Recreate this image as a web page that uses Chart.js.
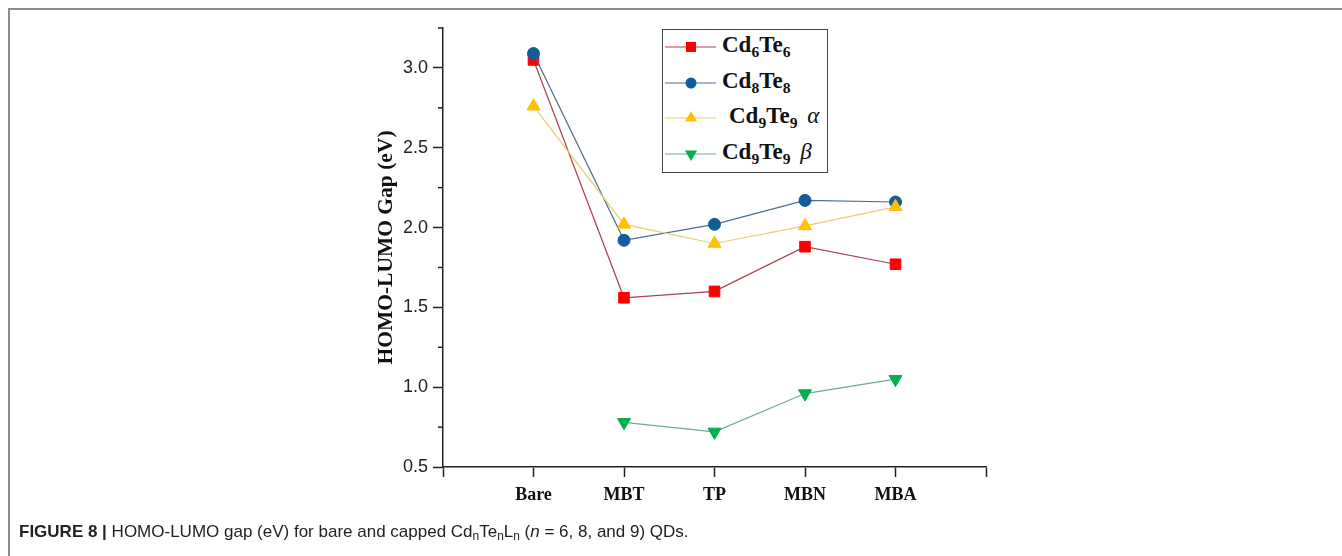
<!DOCTYPE html>
<html>
<head>
<meta charset="utf-8">
<script src="https://cdn.jsdelivr.net/npm/chart.js@4"></script>
<style>
  body { margin: 0; width: 1342px; height: 556px; background: #fff; overflow: hidden; position: relative; }
  .frame { position: absolute; left: 8px; top: 8px; width: 1340px; height: 560px;
           border-top: 2px solid #8c8c8c; border-left: 2px solid #8c8c8c; }
  #chart { position: absolute; left: 0; top: 0; }
  .legend { position: absolute; left: 662px; top: 29px; width: 166px; height: 144px;
            box-sizing: border-box; border: 1px solid #444; background: #fff; }
  .legend .row { position: absolute; left: 0; height: 30px; width: 164px; }
  .legend canvas { position: absolute; left: 1px; top: 0; }
  .legend .txt { position: absolute; top: 0px; font: bold 23px "Liberation Serif", serif; color: #111; white-space: nowrap; }
  .legend sub { font-size: 68%; vertical-align: -0.3em; line-height: 0; }
  .legend i { font-weight: normal; margin-left: 4px; }
  .caption { position: absolute; left: 19px; top: 522px; font: 17px "Liberation Sans", Arial, sans-serif; color: #222; white-space: nowrap; }
  .caption sub { font-size: 70%; vertical-align: -0.25em; line-height: 0; }
</style>
</head>
<body>
<div class="frame"></div>
<canvas id="chart" width="1342" height="556"></canvas>
<div class="legend" id="legend"></div>
<div class="caption"><b>FIGURE 8 |</b> HOMO-LUMO gap (eV) for bare and capped Cd<sub>n</sub>Te<sub>n</sub>L<sub>n</sub> (<i>n</i> = 6, 8, and 9) QDs.</div>
<script>
const categories = ["Bare", "MBT", "TP", "MBN", "MBA"];
const cd6te6 = [3.05, 1.56, 1.60, 1.88, 1.77];
const cd8te8 = [3.09, 1.92, 2.02, 2.17, 2.16];
const cd9te9Alpha = [2.76, 2.02, 1.90, 2.01, 2.13];
const cd9te9Beta = [null, 0.78, 0.72, 0.96, 1.05];
const seriesNames = [
  "Cd<sub>6</sub>Te<sub>6</sub>",
  "Cd<sub>8</sub>Te<sub>8</sub>",
  "Cd<sub>9</sub>Te<sub>9</sub> <i>&alpha;</i>",
  "Cd<sub>9</sub>Te<sub>9</sub> <i>&beta;</i>",
];
const yMajorStep = 0.5;

const series = [
  { data: cd6te6, line: "#a8424c", fill: "#ff0000", style: "rect", radius: 7.5, rot: 0 },
  { data: cd8te8, line: "#4d6d8e", fill: "#145c96", style: "circle", radius: 6, rot: 0 },
  { data: cd9te9Alpha, line: "#e6cf6e", fill: "#ffc000", style: "triangle", radius: 7.5, rot: 0 },
  { data: cd9te9Beta, line: "#6fa99a", fill: "#00b050", style: "triangle", radius: 7.5, rot: 180 },
];

function toPoints(values) {
  return values.map((v, i) => ({ x: i + 1, y: v }));
}

const isMajor = (v) => Math.abs(v / yMajorStep - Math.round(v / yMajorStep)) < 1e-6;

// short minor ticks on the y axis
const minorTicks = {
  id: "minorTicks",
  afterDraw(chart) {
    const y = chart.scales.y;
    const ctx = chart.ctx;
    ctx.save();
    ctx.strokeStyle = "#222";
    ctx.lineWidth = 1.5;
    y.ticks.forEach((t) => {
      if (isMajor(t.value)) return;
      const py = y.getPixelForValue(t.value);
      ctx.beginPath();
      ctx.moveTo(y.right - 5, py);
      ctx.lineTo(y.right, py);
      ctx.stroke();
    });
    ctx.restore();
  },
};

new Chart(document.getElementById("chart"), {
  type: "line",
  data: {
    datasets: series.map((s, i) => ({
      label: seriesNames[i],
      data: toPoints(s.data),
      borderColor: s.line,
      borderWidth: 1.2,
      backgroundColor: s.fill,
      pointStyle: s.style,
      pointRadius: s.radius,
      pointRotation: s.rot,
      pointBackgroundColor: s.fill,
      pointBorderColor: s.fill,
      pointBorderWidth: 1,
      tension: 0,
      spanGaps: false,
      order: series.length - i,
    })),
  },
  options: {
    responsive: false,
    animation: false,
    layout: { padding: { left: 373, top: 28, right: 356, bottom: 39 } },
    plugins: { legend: { display: false }, tooltip: { enabled: false } },
    scales: {
      x: {
        type: "linear",
        min: 0,
        max: 6,
        afterFit: (s) => { s.height = 50; },
        border: { color: "#222", width: 1.5 },
        grid: { drawOnChartArea: false, tickLength: 10, tickColor: "#222", tickWidth: 1.5 },
        ticks: {
          stepSize: 1,
          autoSkip: false,
          maxRotation: 0,
          padding: 8,
          color: "#111",
          font: { family: "Liberation Serif", weight: "bold", size: 18 },
          callback: (v) => categories[v - 1] || "",
        },
      },
      y: {
        min: 0.5,
        max: 3.25,
        afterFit: (s) => { s.width = 70; },
        border: { color: "#222", width: 1.5 },
        grid: {
          drawOnChartArea: false,
          tickLength: 10,
          tickWidth: 1.5,
          tickColor: (c) => (isMajor(c.tick.value) ? "#222" : "rgba(0,0,0,0)"),
        },
        ticks: {
          stepSize: 0.25,
          padding: 5,
          color: "#222",
          font: { family: "Liberation Sans", size: 18 },
          callback: (v) => (isMajor(v) ? v.toFixed(1) : ""),
        },
        title: {
          display: true,
          text: "HOMO-LUMO Gap (eV)",
          color: "#111",
          padding: { top: 1, bottom: 0 },
          font: { family: "Liberation Serif", weight: "bold", size: 21.5 },
        },
      },
    },
  },
  plugins: [minorTicks],
});

// html legend with subscripts
const legend = document.getElementById("legend");
series.forEach((s, i) => {
  const row = document.createElement("div");
  row.className = "row";
  row.style.top = 2 + i * 35.7 + "px";
  const c = document.createElement("canvas");
  c.width = 56;
  c.height = 30;
  const ctx = c.getContext("2d");
  ctx.strokeStyle = s.line;
  ctx.lineWidth = 1.2;
  ctx.beginPath();
  ctx.moveTo(1, 15);
  ctx.lineTo(52, 15);
  ctx.stroke();
  ctx.fillStyle = s.fill;
  const cx = 27;
  const cy = 15;
  if (s.style === "rect") {
    ctx.fillRect(cx - 5, cy - 5, 10, 10);
  } else if (s.style === "circle") {
    ctx.beginPath();
    ctx.arc(cx, cy, 5.5, 0, Math.PI * 2);
    ctx.fill();
  } else {
    const d = s.rot ? -1 : 1;
    ctx.beginPath();
    ctx.moveTo(cx, cy - d * 7);
    ctx.lineTo(cx + 6.1, cy + d * 3.5);
    ctx.lineTo(cx - 6.1, cy + d * 3.5);
    ctx.closePath();
    ctx.fill();
  }
  row.appendChild(c);
  const t = document.createElement("div");
  t.className = "txt";
  t.style.left = (i === 2 ? 66 : 59) + "px";
  t.innerHTML = seriesNames[i];
  row.appendChild(t);
  legend.appendChild(row);
});
</script>
</body>
</html>
